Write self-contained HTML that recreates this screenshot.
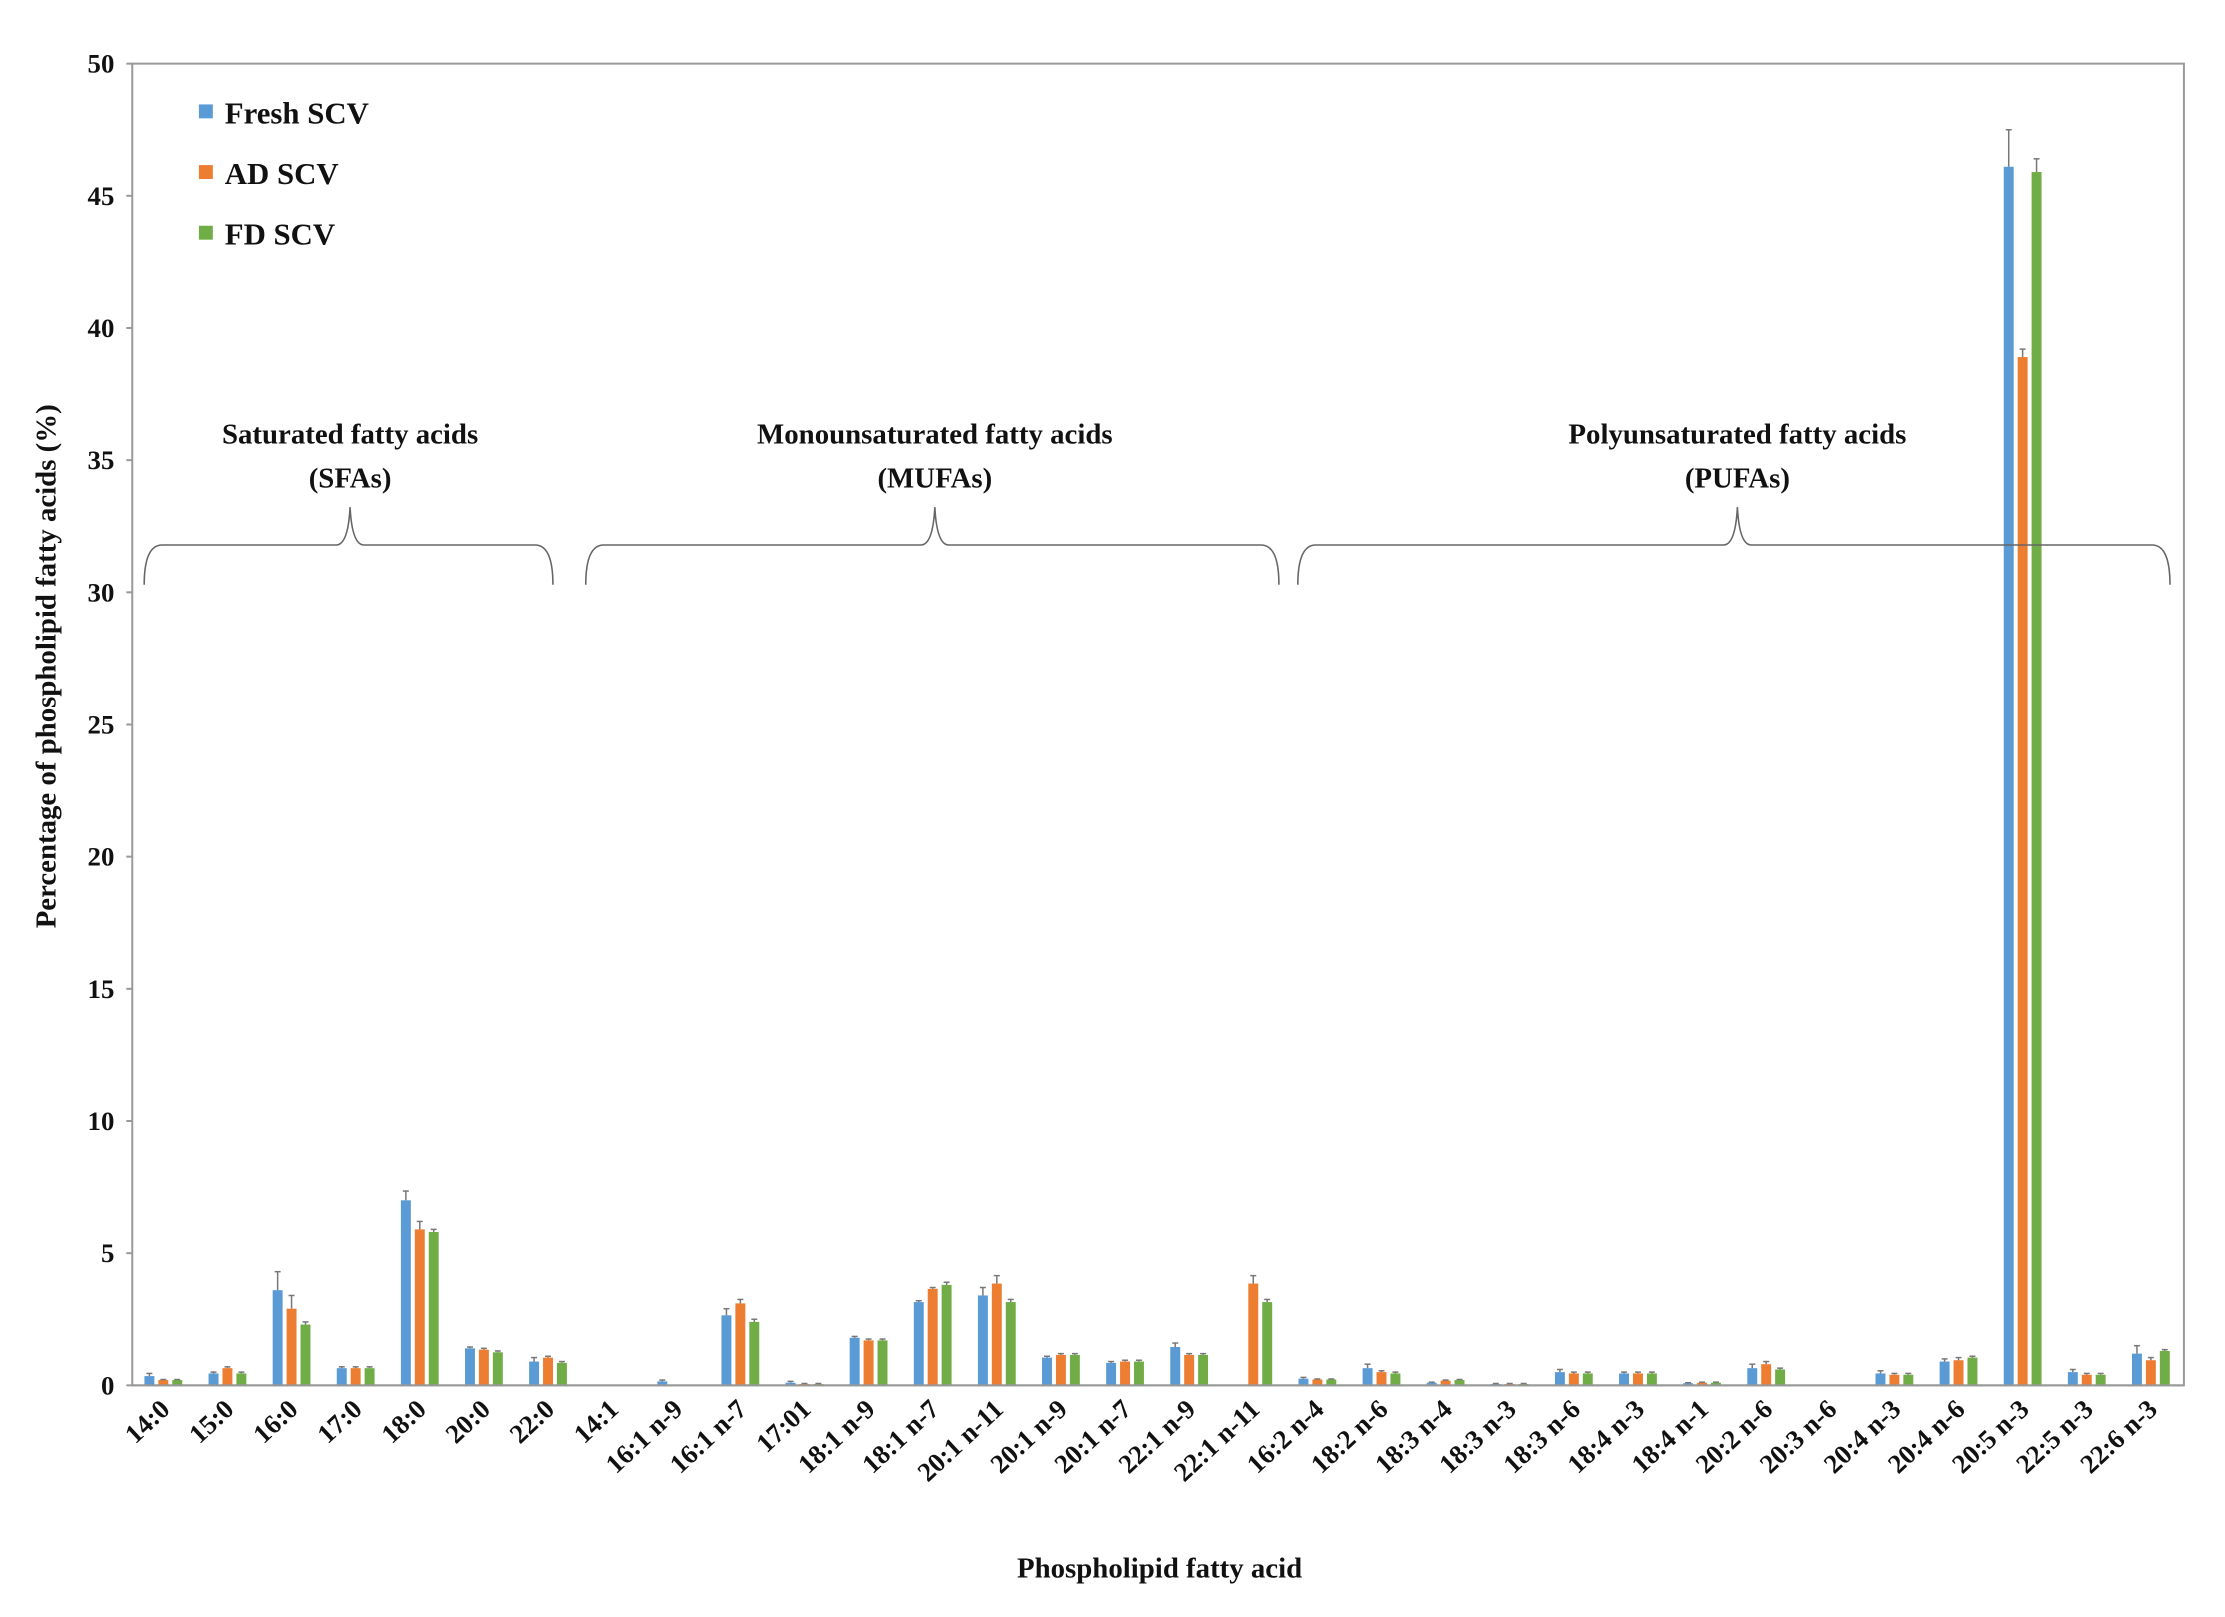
<!DOCTYPE html>
<html><head><meta charset="utf-8"><style>
html,body{margin:0;padding:0;background:#fff;width:2225px;height:1617px;overflow:hidden}
svg text{font-family:"Liberation Serif",serif;font-weight:bold;fill:#111}
</style></head><body>
<svg width="2225" height="1617" xmlns="http://www.w3.org/2000/svg"><g id="chart" transform="scale(0.9945)"></g></svg>
<script>
const categories=["14:0","15:0","16:0","17:0","18:0","20:0","22:0","14:1","16:1 n-9","16:1 n-7","17:01","18:1 n-9","18:1 n-7","20:1 n-11","20:1 n-9","20:1 n-7","22:1 n-9","22:1 n-11","16:2 n-4","18:2 n-6","18:3 n-4","18:3 n-3","18:3 n-6","18:4 n-3","18:4 n-1","20:2 n-6","20:3 n-6","20:4 n-3","20:4 n-6","20:5 n-3","22:5 n-3","22:6 n-3"];
const freshValues=[0.35,0.45,3.6,0.65,7.0,1.4,0.9,0.03,0.15,2.65,0.1,1.8,3.15,3.4,1.05,0.85,1.45,0,0.25,0.65,0.1,0.05,0.5,0.45,0.08,0.65,0,0.45,0.9,46.1,0.5,1.2];
const adValues=[0.2,0.65,2.9,0.65,5.9,1.35,1.05,0.03,0,3.1,0.05,1.7,3.65,3.85,1.15,0.9,1.15,3.85,0.22,0.5,0.18,0.05,0.45,0.45,0.1,0.8,0,0.4,0.95,38.9,0.4,0.95];
const fdValues=[0.2,0.45,2.3,0.65,5.8,1.25,0.85,0.03,0,2.4,0.05,1.7,3.8,3.15,1.15,0.9,1.15,3.15,0.22,0.45,0.2,0.05,0.45,0.45,0.1,0.6,0,0.4,1.05,45.9,0.4,1.3];
const freshErr=[0.1,0.05,0.7,0.05,0.35,0.05,0.15,0,0.05,0.25,0.05,0.05,0.05,0.3,0.05,0.05,0.15,0,0.05,0.15,0.02,0.02,0.1,0.05,0.02,0.15,0,0.1,0.1,1.4,0.1,0.3];
const adErr=[0.02,0.05,0.5,0.05,0.3,0.05,0.05,0,0,0.15,0.02,0.05,0.05,0.3,0.05,0.05,0.05,0.3,0.02,0.05,0.02,0.02,0.05,0.05,0.02,0.1,0,0.05,0.1,0.3,0.05,0.1];
const fdErr=[0.02,0.05,0.1,0.05,0.1,0.05,0.05,0,0,0.1,0.02,0.05,0.1,0.1,0.05,0.05,0.05,0.1,0.02,0.05,0.02,0.02,0.05,0.05,0.02,0.05,0,0.05,0.05,0.5,0.05,0.05];
const yTicks=[0,5,10,15,20,25,30,35,40,45,50];
const seriesNames=["Fresh SCV","AD SCV","FD SCV"];
const seriesColors=["#5b9bd5","#ed7d31","#70ad47"];

const svg=document.getElementById('chart');
const NS="http://www.w3.org/2000/svg";
const L=133,R=2196,T=64,B=1393,YMAX=50;
const n=categories.length, step=(R-L)/n;
const y=v=>B-(v/YMAX)*(B-T);
const xc=i=>L+step*(i+0.5)-1;
function mk(tag,attrs,parent){const e=document.createElementNS(NS,tag);for(const k in attrs)e.setAttribute(k,attrs[k]);(parent||svg).appendChild(e);return e;}

const axes=mk('g',{});


mk('rect',{x:L,y:T,width:R-L,height:B-T,fill:'none',stroke:'#999','stroke-width':2},axes);
yTicks.forEach(t=>{
  mk('line',{x1:L-6,x2:L,y1:y(t),y2:y(t),stroke:'#999','stroke-width':2},axes);
  const tx=mk('text',{x:L-18,y:y(t)+9,'text-anchor':'end','font-size':27},axes);
  tx.textContent=t;
  
  
});

const all=[freshValues,adValues,fdValues], errs=[freshErr,adErr,fdErr];
const bw=10, off=14;
all.forEach((vals,s)=>{
  const g=mk('g',{});
  
  
  vals.forEach((v,i)=>{
    const cx=xc(i)+(s-1)*off;
    const r=mk('rect',{x:cx-bw/2,y:y(v),width:bw,height:B-y(v),fill:seriesColors[s]},g);
    
    
    const e=errs[s][i];
    if(e>0&&v>0){
      mk('line',{x1:cx,x2:cx,y1:y(v),y2:y(v+e),stroke:'#777','stroke-width':1.5},g);
      mk('line',{x1:cx-3,x2:cx+3,y1:y(v+e),y2:y(v+e),stroke:'#777','stroke-width':1.5},g);
    }
  });
});
mk('line',{x1:L,x2:R,y1:B,y2:B,stroke:'#999','stroke-width':2});

categories.forEach((c,i)=>{
  const x=xc(i)+8, yy=B+26;
  const t=mk('text',{x:x,y:yy,'text-anchor':'end','font-size':27,transform:`rotate(-43 ${x} ${yy})`});
  t.textContent=c;
  
  
});

const xt=mk('text',{x:1166,y:1586,'text-anchor':'middle','font-size':29});
xt.textContent='Phospholipid fatty acid';


const yt=mk('text',{x:56,y:670,'text-anchor':'middle','font-size':29,transform:'rotate(-90 56 670)'});
yt.textContent='Percentage of phospholipid fatty acids (%)';



seriesNames.forEach((nm,s)=>{
  const yy=114+s*61;
  const g=mk('g',{});
  
  
  mk('rect',{x:200,y:yy-9,width:14,height:14,fill:seriesColors[s]},g);
  const t=mk('text',{x:226,y:yy+10,'font-size':31},g);
  t.textContent=nm;
});

const groups=[["Saturated fatty acids","(SFAs)",145,556,352],["Monounsaturated fatty acids","(MUFAs)",589,1286,940],["Polyunsaturated fatty acids","(PUFAs)",1305,2182,1747]];
groups.forEach(gd=>{
  const [l1,l2,a,b,tip]=gd;
  const g=mk('g',{});
  
  
  const top=510,h=548,bot=588;
  mk('path',{d:`M${a},${bot} Q${a},${h} ${a+18},${h} L${tip-14},${h} Q${tip-2},${h} ${tip},${top} Q${tip+2},${h} ${tip+14},${h} L${b-18},${h} Q${b},${h} ${b},${bot}`,fill:'none',stroke:'#666','stroke-width':1.6},g);
  const t1=mk('text',{x:tip,y:446,'text-anchor':'middle','font-size':29},g);t1.textContent=l1;
  const t2=mk('text',{x:tip,y:490,'text-anchor':'middle','font-size':29},g);t2.textContent=l2;
});
</script>
</body></html>
